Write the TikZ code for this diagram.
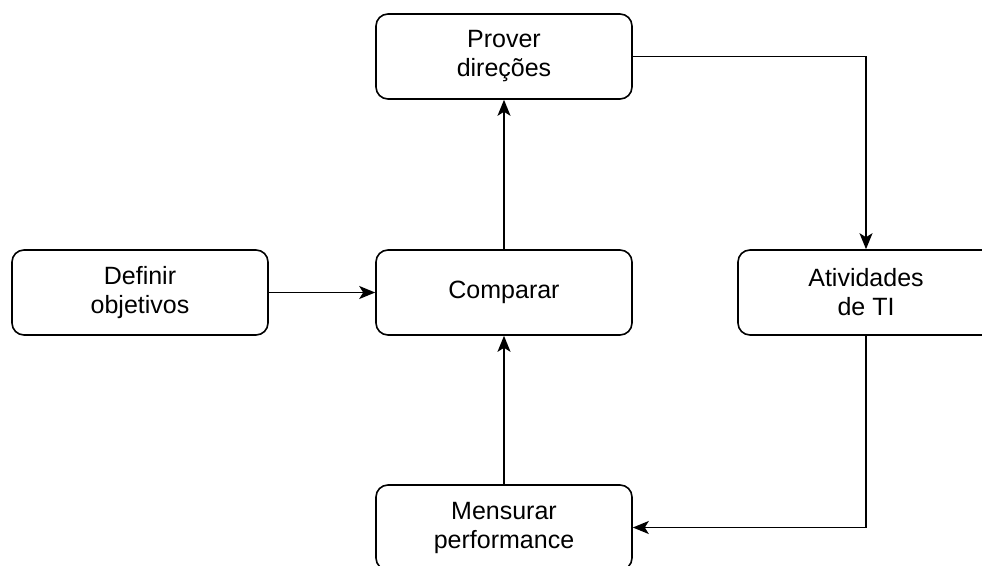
\documentclass[tikz,border=0pt]{standalone}
\usepackage{fontspec}
\setmainfont{Liberation Sans}
\usepackage{tikz}
\usetikzlibrary{arrows.meta,shapes}

\begin{document}
\begin{tikzpicture}[x=1pt,y=-1pt,
  etapa/.style={draw,rounded corners=12pt,line width=1.6pt,minimum width=256pt,minimum height=85pt,align=center,font=\fontsize{25}{29}\selectfont},
  seta/.style={line width=1.6pt,-{Stealth[length=16pt,width=13pt,inset=4pt]}}]
\clip (0,0) rectangle (982,565);
\node[etapa] (defobj) at (140,292.5) {Definir\\objetivos};
\node[etapa] (comp) at (504,292.5) {Comparar};
\node[etapa] (prov) at (504,56.5) {Prover\\direções};
\node[etapa] (ativ) at (866,292.5) {Atividades\\de TI};
\node[etapa] (mens) at (504,527.5) {Mensurar\\performance};
\draw[seta]  (defobj) -- (comp);
\draw[seta]  (comp) -- (prov);
\draw[seta]  (mens) -- (comp);
\draw[seta]  (prov) -| (ativ);
\draw[seta]  (ativ) |- (mens);
\end{tikzpicture}
\end{document}
